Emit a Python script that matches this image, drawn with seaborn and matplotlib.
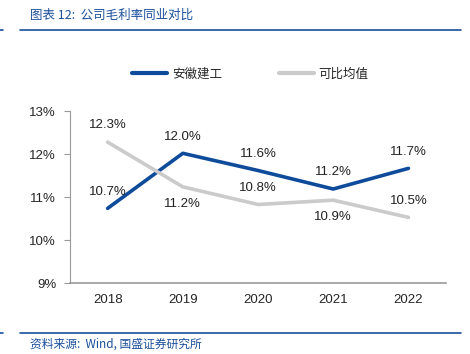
import pandas as pd
import matplotlib.pyplot as plt
import seaborn as sns

years = ['2018', '2019', '2020', '2021', '2022']
company = [10.74, 12.02, 11.62, 11.19, 11.67]
peers = [12.28, 11.24, 10.83, 10.93, 10.53]
company_labels = ['10.7%', '12.0%', '11.6%', '11.2%', '11.7%']
peer_labels = ['12.3%', '11.2%', '10.8%', '10.9%', '10.5%']
# +1 = label above the point, -1 = below
company_pos = [1, 1, 1, 1, 1]
peer_pos = [1, -1, 1, -1, 1]

BLUE = '#0e4c9b'
GREY = '#cbcbcb'
TITLE_BLUE = '#1a4f9c'

sns.set_style('white')
plt.rcParams['font.family'] = ['Noto Sans CJK SC', 'DejaVu Sans']

df = pd.DataFrame({
    'Year': years * 2,
    'Value': company + peers,
    'Series': ['安徽建工'] * 5 + ['可比均值'] * 5,
})

fig = plt.figure(figsize=(4.7, 3.54), dpi=100)
ax = fig.add_axes([0.149, 0.2, 0.80, 0.486])

sns.lineplot(data=df, x='Year', y='Value', hue='Series', sort=False,
             palette={'安徽建工': BLUE, '可比均值': GREY}, linewidth=2.6, ax=ax)

for i, (v, lab, p) in enumerate(zip(company, company_labels, company_pos)):
    ax.annotate(lab, (i, v), xytext=(0, 12 * p), textcoords='offset points',
                ha='center', va='center', fontsize=9.5, family='Liberation Sans', color='#222222')
for i, (v, lab, p) in enumerate(zip(peers, peer_labels, peer_pos)):
    ax.annotate(lab, (i, v), xytext=(0, 12 * p), textcoords='offset points',
                ha='center', va='center', fontsize=9.5, family='Liberation Sans', color='#222222')

ax.set_ylim(9, 13)
ax.set_yticks([9, 10, 11, 12, 13])
ax.set_yticklabels(['9%', '10%', '11%', '12%', '13%'], fontsize=9.5, family='Liberation Sans')
ax.set_xlim(-0.5, 4.5)
ax.tick_params(axis='x', labelsize=9.5, length=0, pad=8)
for t in ax.get_xticklabels():
    t.set_family('Liberation Sans')
ax.tick_params(axis='y', length=4, width=0.8, color='#999999', pad=6, left=True, direction='out')
ax.set_xlabel('')
ax.set_ylabel('')
for side in ['top', 'right']:
    ax.spines[side].set_visible(False)
ax.spines['left'].set_color('#999999')
ax.spines['bottom'].set_color('#999999')
ax.spines['bottom'].set_linewidth(1.2)

leg = ax.legend(loc='center', bbox_to_anchor=(0.48, 1.215), ncol=2, frameon=False,
                fontsize=9, handlelength=2.8, columnspacing=4.5, handletextpad=0.4)
for line in leg.get_lines():
    line.set_linewidth(3)

# header / footer decorations
fig.text(0.064, 0.956, '图表 12:  公司毛利率同业对比', fontsize=9, style='italic',
         color=TITLE_BLUE, va='center')
fig.add_artist(plt.Line2D([0.042, 0.98], [0.914, 0.914], color=TITLE_BLUE, linewidth=1.2))
fig.add_artist(plt.Line2D([0.0, 0.006], [0.914, 0.914], color=TITLE_BLUE, linewidth=1.2))
fig.add_artist(plt.Line2D([0.042, 0.98], [0.059, 0.059], color=TITLE_BLUE, linewidth=1.2))
fig.add_artist(plt.Line2D([0.0, 0.006], [0.059, 0.059], color=TITLE_BLUE, linewidth=1.2))
fig.text(0.063, 0.028, '资料来源:  Wind, 国盛证券研究所', fontsize=8.5, style='italic',
         color=TITLE_BLUE, va='center')

fig.savefig('out.png', dpi=100)
